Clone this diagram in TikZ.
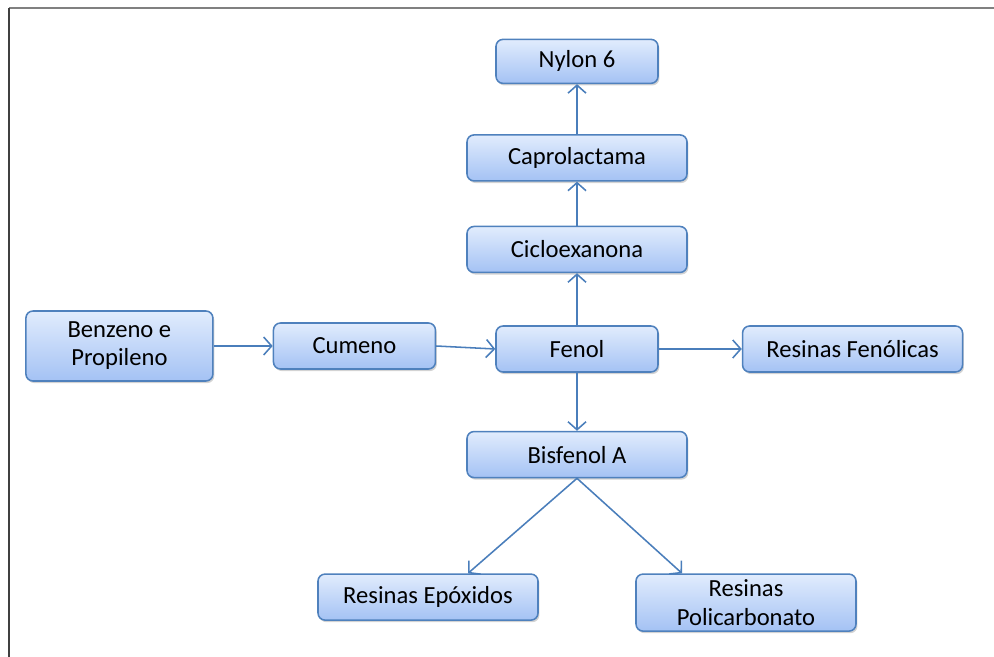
\documentclass[tikz,border=0pt]{standalone}
\usepackage{fontspec}
\setmainfont{Carlito}
\usetikzlibrary{positioning, arrows.meta, shadows}

\definecolor{boxline}{HTML}{4F81BD}
\definecolor{boxtop}{HTML}{E1ECFD}
\definecolor{boxbottom}{HTML}{A4C2F4}
\definecolor{arrowblue}{HTML}{4A7EBB}

\begin{document}
\begin{tikzpicture}[
        node distance=1.3cm,
        process/.style={rectangle, draw=boxline, line width=1.1pt, top color=boxtop, bottom color=boxbottom, rounded corners=5pt, text centered, align=center, minimum height=1.15cm, minimum width=5.5cm, inner sep=0pt, font=\fontsize{17.5}{20}\selectfont, drop shadow={shadow xshift=1pt, shadow yshift=-1.5pt, opacity=0.35}},
        short/.style={minimum width=4.05cm},
        arrow/.style={draw=arrowblue, line width=1.1pt, -{Straight Barb[length=2mm, width=4.5mm]}}
    ]
    \useasboundingbox (0,0) rectangle (24.85,-16.425);
    % frame
    \draw[gray, line width=1.5pt] (0.225,-0.2) -- (24.85,-0.2);
    \draw[black!75, line width=1.5pt] (0.225,-0.2) -- (0.225,-16.425);

    \node[process, short] (fenol) at (14.425,-8.725) {Fenol};
    \node[process, short, left=1.475cm of fenol, yshift=0.075cm] (cumeno) {Cumeno};
    \node[process, left=1.475cm of cumeno, minimum width=4.675cm, minimum height=1.75cm] (benzeno) {Benzeno e\\Propileno};
    \node[process, right=2.075cm of fenol] (fenolicas) {Resinas Fenólicas};
    \node[process, above=1.3cm of fenol] (ciclo) {Cicloexanona};
    \node[process, above=1.1cm of ciclo] (capro) {Caprolactama};
    \node[process, short, above=1.25cm of capro, minimum height=1.1cm] (nylon) {Nylon 6};
    \node[process, below=1.45cm of fenol] (bisfenol) {Bisfenol A};
    \node[process, below=2.375cm of bisfenol, xshift=-3.725cm] (epoxidos) {Resinas Epóxidos};
    \node[process, below=2.375cm of bisfenol, xshift=4.225cm, minimum height=1.425cm] (policarb) {Resinas\\Policarbonato};

    \draw[arrow] (benzeno.east) -- (cumeno.west);
    \draw[arrow] (cumeno.east) -- (fenol.west);
    \draw[arrow] (fenol) -- (fenolicas);
    \draw[arrow] (fenol) -- (ciclo);
    \draw[arrow] (ciclo) -- (capro);
    \draw[arrow] (capro) -- (nylon);
    \draw[arrow] (fenol) -- (bisfenol);
    \draw[arrow] (bisfenol.south) -- ([xshift=1cm]epoxidos.north);
    \draw[arrow] (bisfenol.south) -- ([xshift=-1.6cm]policarb.north);
\end{tikzpicture}
\end{document}
